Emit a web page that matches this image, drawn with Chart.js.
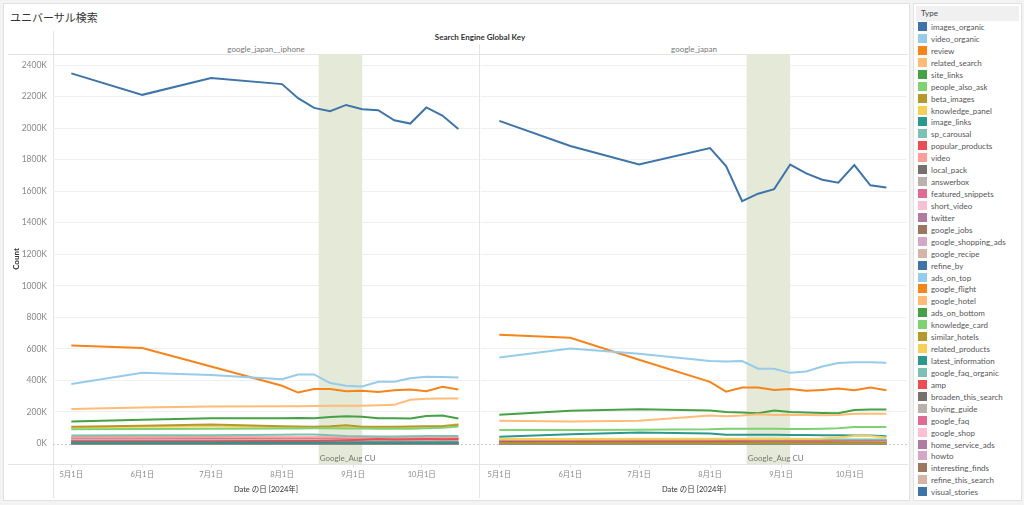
<!DOCTYPE html>
<html>
<head>
<meta charset="utf-8">
<script src="https://cdn.jsdelivr.net/npm/chart.js@4.4.1/dist/chart.umd.min.js"></script>
<style>
  body { margin: 0; width: 1024px; height: 505px; background: #f3f3f3; position: relative; overflow: hidden;
         font-family: Lato, "Noto Sans CJK JP", sans-serif; }
  #frame { position: absolute; left: 3px; top: 3px; width: 905px; height: 496px; background: #fff; border: 1px solid #e2e2e2; }
  .ln { position: absolute; background: #e4e4e4; }
  .txt { position: absolute; white-space: nowrap; }
  canvas { position: absolute; }
  #legend { position: absolute; left: 913px; top: 3px; width: 107px; height: 496px; background: #fff; border: 1px solid #e2e2e2; }
  #legend .hd { position: absolute; left: 2px; top: 2px; width: 103px; height: 15px; background: #f0f0f0;
                font-size: 8px; color: #444; line-height: 15px; text-indent: 5px; }
  #legend .it { position: absolute; left: 4px; height: 10px; font-size: 8px; color: #555; line-height: 10px; }
  #legend .sw { display: inline-block; width: 9px; height: 9px; vertical-align: top; margin-right: 4px; }
</style>
</head>
<body>
<div id="frame"></div>
<div class="txt" style="left:10px;top:10px;font-size:11px;color:#333;line-height:16px;">ユニバーサル検索</div>
<div class="txt" style="left:380px;width:200px;top:32px;text-align:center;font-size:8px;font-weight:700;color:#333;">Search Engine Global Key</div>
<div class="txt" style="left:53px;width:426px;top:44px;text-align:center;font-size:8px;color:#777;">google_japan__iphone</div>
<div class="txt" style="left:481px;width:426px;top:44px;text-align:center;font-size:8px;color:#777;">google_japan</div>

<div class="ln" style="left:53px;top:31px;width:1px;height:467px;"></div>
<div class="ln" style="left:479px;top:44px;width:1px;height:454px;"></div>
<div class="ln" style="left:8px;top:54px;width:900px;height:1px;"></div>
<div class="ln" style="left:8px;top:464px;width:900px;height:1px;"></div>

<canvas id="iphone-chart" width="480" height="451" style="left:0;top:54px;"></canvas>
<canvas id="japan-chart" width="430" height="451" style="left:480px;top:54px;"></canvas>

<div id="legend"><div class="hd">Type</div></div>

<script>
const dates = ['2024-05-01', '2024-06-01', '2024-07-01', '2024-08-01', '2024-08-08', '2024-08-15', '2024-08-22',
               '2024-08-29', '2024-09-05', '2024-09-12', '2024-09-19', '2024-09-26', '2024-10-03', '2024-10-10', '2024-10-17'];
const monthTicks = ['2024-05-01', '2024-06-01', '2024-07-01', '2024-08-01', '2024-09-01', '2024-10-01'];
const yTicks = [0, 200, 400, 600, 800, 1000, 1200, 1400, 1600, 1800, 2000, 2200, 2400];
const bandStart = '2024-08-17';
const bandEnd = '2024-09-05';
const bandLabel = 'Google_Aug CU';

const types = ['images_organic', 'video_organic', 'review', 'related_search', 'site_links', 'people_also_ask',
  'beta_images', 'knowledge_panel', 'image_links', 'sp_carousal', 'popular_products', 'video', 'local_pack',
  'answerbox', 'featured_snippets', 'short_video', 'twitter', 'google_jobs', 'google_shopping_ads', 'google_recipe',
  'refine_by', 'ads_on_top', 'google_flight', 'google_hotel', 'ads_on_bottom', 'knowledge_card', 'similar_hotels',
  'related_products', 'latest_information', 'google_faq_organic', 'amp', 'broaden_this_search', 'buying_guide',
  'google_faq', 'google_shop', 'home_service_ads', 'howto', 'interesting_finds', 'refine_this_search', 'visual_stories'];

const colors = ['#3f74a8', '#96cbe9', '#f5841a', '#ffbb78', '#46a146', '#7fd272', '#b6992d', '#f6ce58', '#2b9890', '#7ec0b6',
  '#ec4d55', '#ff9d9a', '#79706e', '#bab0ac', '#e06a92', '#fabfd2', '#b07aa1', '#9d7660', '#d4a6c8', '#d7b5a6',
  '#3f74a8', '#96cbe9', '#f5841a', '#ffbb78', '#46a146', '#7fd272', '#b6992d', '#f6ce58', '#2b9890', '#7ec0b6',
  '#ec4d55', '#79706e', '#bab0ac', '#e06a92', '#fabfd2', '#b07aa1', '#d4a6c8', '#9d7660', '#d7b5a6', '#3f74a8'];

// Count in K, one row per type (same order as types)
const iphoneCounts = [
  [2347, 2211, 2317, 2279, 2190, 2128, 2107, 2147, 2120, 2114, 2050, 2029, 2131, 2080, 1995],
  [378, 448, 435, 408, 438, 438, 383, 366, 361, 391, 391, 414, 423, 421, 419],
  [622, 605, 488, 366, 323, 346, 346, 332, 334, 327, 338, 342, 332, 359, 342],
  [219, 228, 234, 236, 237, 238, 239, 239, 240, 242, 245, 277, 283, 285, 285],
  [139, 151, 160, 160, 162, 160, 168, 173, 170, 160, 160, 158, 175, 177, 158],
  [90, 92, 94, 95, 95, 96, 96, 95, 95, 94, 94, 94, 96, 100, 107],
  [107, 113, 120, 109, 108, 107, 110, 116, 107, 107, 107, 108, 110, 111, 118],
  [103, 106, 110, 105, 104, 103, 105, 110, 103, 103, 103, 104, 106, 108, 124],
  [6, 7, 7, 7, 6, 6, 6, 6, 6, 6, 6, 6, 6, 6, 6],
  [50, 53, 52, 55, 57, 57, 52, 47, 46, 45, 45, 46, 47, 47, 47],
  [14, 14, 15, 16, 16, 16, 17, 20, 24, 28, 26, 27, 28, 27, 28],
  [42, 42, 41, 40, 40, 40, 40, 38, 37, 36, 36, 36, 37, 37, 37],
  [4, 4, 4, 4, 4, 4, 4, 4, 4, 4, 4, 4, 4, 4, 4],
  [20, 21, 21, 21, 21, 21, 21, 20, 20, 20, 20, 20, 20, 20, 20],
  [36, 36, 35, 35, 35, 35, 35, 34, 34, 33, 33, 33, 33, 33, 33],
  [32, 33, 33, 33, 33, 33, 33, 32, 32, 32, 32, 32, 32, 32, 32],
  [6, 6, 6, 5, 5, 5, 5, 5, 5, 5, 5, 5, 5, 5, 5],
  [3, 3, 3, 3, 3, 3, 3, 3, 3, 3, 3, 3, 3, 3, 3],
  [2, 2, 2, 2, 2, 2, 2, 2, 2, 2, 2, 2, 2, 2, 2],
  [9, 9, 9, 9, 9, 9, 9, 9, 9, 9, 9, 9, 9, 9, 9],
  [0, 0, 0, 0, 0, 0, 0, 0, 0, 0, 0, 0, 0, 0, 0],
  [12, 12, 12, 12, 12, 12, 12, 12, 12, 12, 12, 12, 12, 12, 12],
  [1, 1, 1, 1, 1, 1, 1, 1, 1, 1, 1, 1, 1, 1, 1],
  [18, 18, 18, 18, 18, 18, 18, 18, 18, 18, 18, 18, 18, 18, 18],
  [2, 2, 2, 2, 2, 2, 2, 2, 2, 2, 2, 2, 2, 2, 2],
  [10, 10, 10, 10, 10, 10, 10, 10, 10, 10, 10, 10, 10, 10, 10],
  [0, 0, 0, 0, 0, 0, 0, 0, 0, 0, 0, 0, 0, 0, 0],
  [26, 27, 27, 27, 27, 27, 27, 27, 27, 27, 27, 27, 28, 28, 28],
  [1, 1, 1, 1, 1, 1, 1, 1, 1, 1, 1, 1, 1, 1, 1],
  [3, 3, 3, 3, 3, 3, 3, 3, 3, 3, 3, 3, 3, 3, 3],
  [0, 0, 0, 0, 0, 0, 0, 0, 0, 0, 0, 0, 0, 0, 0],
  [1, 1, 1, 1, 1, 1, 1, 1, 1, 1, 1, 1, 1, 1, 1],
  [1, 1, 1, 1, 1, 1, 1, 1, 1, 1, 1, 1, 1, 1, 1],
  [0, 0, 0, 0, 0, 0, 0, 0, 0, 0, 0, 0, 0, 0, 0],
  [0, 0, 0, 0, 0, 0, 0, 0, 0, 0, 0, 0, 0, 0, 0],
  [0, 0, 0, 0, 0, 0, 0, 0, 0, 0, 0, 0, 0, 0, 0],
  [0, 0, 0, 0, 0, 0, 0, 0, 0, 0, 0, 0, 0, 0, 0],
  [1, 1, 1, 1, 1, 1, 1, 1, 1, 1, 1, 1, 1, 1, 1],
  [0, 0, 0, 0, 0, 0, 0, 0, 0, 0, 0, 0, 0, 0, 0],
  [1, 1, 1, 1, 1, 1, 1, 1, 1, 1, 1, 1, 1, 1, 1]
];

const japanCounts = [
  [2046, 1887, 1769, 1874, 1760, 1537, 1584, 1613, 1769, 1713, 1673, 1654, 1766, 1637, 1624],
  [545, 603, 569, 523, 520, 523, 474, 474, 448, 457, 488, 510, 516, 516, 512],
  [690, 671, 531, 391, 329, 355, 355, 340, 345, 334, 340, 348, 338, 355, 338],
  [145, 139, 145, 177, 173, 177, 186, 181, 183, 181, 179, 181, 189, 188, 188],
  [183, 207, 217, 209, 200, 196, 192, 209, 200, 196, 194, 192, 213, 215, 215],
  [86, 86, 87, 90, 94, 94, 93, 93, 92, 92, 93, 96, 104, 105, 105],
  [2, 2, 2, 2, 2, 2, 2, 2, 2, 2, 2, 2, 2, 2, 2],
  [28, 29, 30, 30, 30, 30, 30, 30, 30, 30, 32, 38, 48, 48, 38],
  [43, 58, 69, 63, 56, 56, 56, 55, 54, 54, 52, 52, 51, 50, 46],
  [24, 25, 25, 25, 25, 25, 25, 25, 25, 25, 25, 25, 25, 25, 25],
  [12, 13, 14, 15, 16, 16, 17, 17, 18, 18, 18, 19, 20, 20, 22],
  [19, 19, 19, 19, 19, 19, 19, 19, 19, 19, 19, 19, 19, 19, 19],
  [6, 6, 6, 6, 6, 6, 6, 6, 6, 6, 6, 6, 6, 6, 6],
  [14, 14, 14, 14, 14, 14, 14, 14, 14, 14, 14, 14, 14, 14, 14],
  [10, 10, 10, 10, 10, 10, 10, 10, 10, 10, 10, 10, 10, 10, 10],
  [9, 9, 9, 9, 9, 9, 9, 9, 9, 9, 9, 9, 9, 9, 9],
  [4, 4, 4, 4, 4, 4, 4, 4, 4, 4, 4, 4, 4, 4, 4],
  [8, 8, 8, 8, 8, 8, 8, 8, 8, 8, 8, 8, 8, 8, 8],
  [2, 2, 2, 2, 2, 2, 2, 2, 2, 2, 2, 2, 2, 2, 2],
  [5, 5, 5, 5, 5, 5, 5, 5, 5, 5, 5, 5, 5, 5, 5],
  [0, 0, 0, 0, 0, 0, 0, 0, 0, 0, 0, 0, 0, 0, 0],
  [7, 7, 7, 7, 7, 7, 7, 7, 7, 7, 7, 7, 7, 7, 7],
  [3, 3, 3, 3, 3, 3, 3, 3, 3, 3, 3, 3, 3, 3, 3],
  [16, 16, 16, 16, 16, 16, 16, 16, 16, 16, 16, 16, 16, 16, 16],
  [1, 1, 1, 1, 1, 1, 1, 1, 1, 1, 1, 1, 1, 1, 1],
  [11, 11, 11, 11, 11, 11, 11, 11, 11, 11, 11, 11, 11, 11, 11],
  [2, 2, 2, 2, 2, 2, 2, 2, 2, 2, 2, 2, 2, 2, 2],
  [22, 22, 22, 22, 22, 22, 22, 22, 22, 22, 22, 22, 22, 22, 22],
  [1, 1, 1, 1, 1, 1, 1, 1, 1, 1, 1, 1, 1, 1, 1],
  [3, 3, 3, 3, 3, 3, 3, 3, 3, 3, 3, 3, 3, 3, 3],
  [9, 9, 9, 10, 10, 10, 10, 10, 11, 11, 11, 11, 11, 11, 12],
  [1, 1, 1, 1, 1, 1, 1, 1, 1, 1, 1, 1, 1, 1, 1],
  [1, 1, 1, 1, 1, 1, 1, 1, 1, 1, 1, 1, 1, 1, 1],
  [0, 0, 0, 0, 0, 0, 0, 0, 0, 0, 0, 0, 0, 0, 0],
  [0, 0, 0, 0, 0, 0, 0, 0, 0, 0, 0, 0, 0, 0, 0],
  [0, 0, 0, 0, 0, 0, 0, 0, 0, 0, 0, 0, 0, 0, 0],
  [0, 0, 0, 0, 0, 0, 0, 0, 0, 0, 0, 0, 0, 0, 0],
  [1, 1, 1, 1, 1, 1, 1, 1, 1, 1, 1, 1, 1, 1, 1],
  [0, 0, 0, 0, 0, 0, 0, 0, 0, 0, 0, 0, 0, 0, 0],
  [1, 1, 1, 1, 1, 1, 1, 1, 1, 1, 1, 1, 1, 1, 1]
];

const DAY = 86400000;
const dayNum = s => (Date.parse(s) - Date.parse('2024-01-01')) / DAY;
const dayLabel = v => {
  const d = new Date(Date.parse('2024-01-01') + v * DAY);
  return `${d.getUTCMonth() + 1}月${d.getUTCDate()}日`;
};

// 網掛け (Google_Aug CU) と 0 の点線
const bandPlugin = {
  id: 'band',
  beforeDatasetsDraw(chart) {
    const { ctx, chartArea: a, scales: { x, y } } = chart;
    const x0 = x.getPixelForValue(dayNum(bandStart));
    const x1 = x.getPixelForValue(dayNum(bandEnd));
    ctx.save();
    ctx.fillStyle = '#e5ead8';
    ctx.fillRect(x0, a.top, x1 - x0, a.bottom - a.top);
    const y0 = Math.round(y.getPixelForValue(0)) + 0.5;
    ctx.strokeStyle = '#c9c9c9';
    ctx.lineWidth = 1;
    ctx.setLineDash([2, 2]);
    ctx.beginPath();
    ctx.moveTo(a.left, y0);
    ctx.lineTo(a.right, y0);
    ctx.stroke();
    ctx.restore();
  },
  afterDatasetsDraw(chart) {
    const { ctx, chartArea: a, scales: { x } } = chart;
    ctx.save();
    ctx.font = '8px Lato, sans-serif';
    ctx.fillStyle = '#777';
    ctx.textBaseline = 'middle';
    ctx.fillText(bandLabel, x.getPixelForValue(dayNum(bandStart)) + 1, a.bottom - 6);
    ctx.restore();
  }
};

function drawPanel(id, counts, showY) {
  new Chart(document.getElementById(id), {
    type: 'line',
    data: {
      datasets: types.map((t, i) => ({
        label: t,
        data: counts[i].map((v, j) => ({ x: dayNum(dates[j]), y: v })),
        borderColor: colors[i],
        backgroundColor: colors[i],
        borderWidth: 2,
        pointRadius: 0,
        tension: 0
      }))
    },
    options: {
      responsive: false,
      animation: false,
      layout: { padding: { left: 0, right: showY ? 1 : 3, top: 0, bottom: 0 } },
      plugins: { legend: { display: false }, tooltip: { enabled: false } },
      scales: {
        x: {
          type: 'linear',
          min: dayNum('2024-04-23'),
          max: dayNum('2024-10-26'),
          afterBuildTicks: s => { s.ticks = monthTicks.map(d => ({ value: dayNum(d) })); },
          afterFit: s => { s.height = 41; s.paddingLeft = 0; s.paddingRight = 0; },
          ticks: { callback: v => dayLabel(v), autoSkip: false, maxRotation: 0, padding: 2,
                   color: '#888', font: { size: 7.5, family: 'Lato, "Noto Sans CJK JP"' } },
          grid: { drawOnChartArea: false, drawTicks: true, tickLength: 4, color: '#e4e4e4' },
          border: { display: false },
          title: { display: true, text: 'Date の日 [2024年]', color: '#333',
                   font: { size: 7.5, family: 'Lato, "Noto Sans CJK JP"' }, padding: { top: 0, bottom: 11 } }
        },
        y: {
          min: -130,
          max: 2470,
          afterBuildTicks: s => { s.ticks = yTicks.map(v => ({ value: v })); },
          afterFit: s => { s.width = showY ? 53 : 1; s.paddingTop = 0; s.paddingBottom = 0; },
          ticks: { display: showY, callback: v => v + 'K', padding: 6, color: '#888',
                   font: { size: 8.5, family: 'Lato' } },
          grid: { drawTicks: false, color: c => (c.tick && c.tick.value === 0) ? 'rgba(0,0,0,0)' : '#f0f0f0' },
          border: { display: false },
          title: { display: showY, text: 'Count', color: '#333',
                   font: { size: 8, weight: 'bold', family: 'Lato' }, padding: { top: 12, bottom: 0 } }
        }
      }
    },
    plugins: [bandPlugin]
  });
}

// 凡例
const legend = document.getElementById('legend');
types.forEach((t, i) => {
  const el = document.createElement('div');
  el.className = 'it';
  el.style.top = (18 + i * 11.93) + 'px';
  el.innerHTML = `<span class="sw" style="background:${colors[i]}"></span>${t}`;
  legend.appendChild(el);
});

drawPanel('iphone-chart', iphoneCounts, true);
drawPanel('japan-chart', japanCounts, false);
</script>
</body>
</html>
